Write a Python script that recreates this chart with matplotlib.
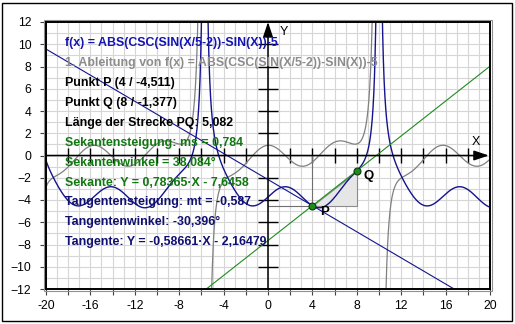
import numpy as np
import matplotlib.pyplot as plt
from matplotlib.patches import Rectangle, Polygon

# chart function: f(x) = ABS(CSC(SIN(X/5-2))-SIN(X))-5
x_lim = (-20, 20)
y_lim = (-12, 12)

p_pt = (4, -4.511)
q_pt = (8, -1.377)
secant = (0.78365, -7.6458)     # slope, intercept
tangent = (-0.58661, -2.16479)  # slope, intercept

x_labels = [-20, -16, -12, -8, -4, 0, 4, 8, 12, 16, 20]
y_labels = [-12, -10, -8, -6, -4, -2, 0, 2, 4, 6, 8, 10, 12]

info_lines = [
    "f(x) = ABS(CSC(SIN(X/5-2))-SIN(X))-5",
    "1. Ableitung von f(x) = ABS(CSC(SIN(X/5-2))-SIN(X))-5",
    "Punkt P (4 / -4,511)",
    "Punkt Q (8 / -1,377)",
    "Länge der Strecke PQ: 5,082",
    "Sekantensteigung: ms = 0,784",
    "Sekantenwinkel = 38,084°",
    "Sekante: Y = 0,78365·X - 7,6458",
    "Tangentensteigung: mt = -0,587",
    "Tangentenwinkel: -30,396°",
    "Tangente: Y = -0,58661·X - 2,16479",
]
info_colors = ["#1414b4", "#8c8c8c", "black", "black", "black",
               "#107810", "#107810", "#107810", "#101070", "#101070", "#101070"]

navy = "#14148c"
green = "#1e8c1e"
gray = "#808080"

plt.rcParams['font.family'] = ['Liberation Sans', 'DejaVu Sans']

fig = plt.figure(figsize=(5.15, 3.24), dpi=100)
ax = fig.add_axes([46 / 515, 1 - 289 / 324, 444 / 515, 267 / 324])
ax.set_xlim(*x_lim)
ax.set_ylim(*y_lim)

# grid every unit
ax.set_xticks(np.arange(-20, 21, 1), minor=True)
ax.set_yticks(np.arange(-12, 13, 1), minor=True)
ax.grid(which='both', color='#d6d6d6', lw=0.8)
ax.set_axisbelow(True)
ax.set_xticks(np.arange(-20, 21, 2))
ax.set_xticklabels([str(v) if v in x_labels else '' for v in range(-20, 21, 2)])
ax.set_yticks(y_labels)
ax.tick_params(which='minor', length=0)
ax.tick_params(which='major', direction='out', length=4.5, width=0.8,
               labelsize=8.8, color='#404040')
ax.tick_params(axis='x', pad=3.5)
ax.tick_params(axis='y', pad=6)
for s in ax.spines.values():
    s.set_linewidth(1.4)
    s.set_color('black')
ax.add_patch(Rectangle((-0.004, -0.006), 1.008, 1.012, transform=ax.transAxes,
                       fill=False, ec='#909090', lw=0.8, clip_on=False))

# coordinate axes with arrows and ticks
ax.annotate('', xy=(19.9, 0), xytext=(-20, 0),
            arrowprops=dict(arrowstyle='-|>,head_length=0.9,head_width=0.3',
                            color='black', lw=1.1, shrinkA=0, shrinkB=0))
ax.annotate('', xy=(0, 12), xytext=(0, -12),
            arrowprops=dict(arrowstyle='-|>,head_length=0.9,head_width=0.3',
                            color='black', lw=1.1, shrinkA=0, shrinkB=0))
xt = [v for v in range(-18, 19, 2) if v != 0]
yt = [v for v in range(-10, 11, 2) if v != 0]
ax.vlines(xt, -0.7, 0.7, color='black', lw=1)
ax.hlines(yt, -0.9, 0.9, color='black', lw=1)
ax.text(18.7, 1.2, 'X', fontsize=9, ha='center', va='center')
ax.text(1.45, 11.1, 'Y', fontsize=9, ha='center', va='center')

# function and derivative
x = np.linspace(x_lim[0], x_lim[1], 16001)
f = np.abs(1 / np.sin(np.sin(x / 5 - 2)) - np.sin(x)) - 5
df = np.gradient(f, x)
f[f > 40] = np.nan
df[np.abs(df) > 40] = np.nan
ax.plot(x, df, color=gray, lw=0.9)
ax.plot(x, f, color=navy, lw=1.0)

# secant and tangent
xl = np.array(x_lim)
ax.plot(xl, secant[0] * xl + secant[1], color=green, lw=0.8)
ax.plot(xl, tangent[0] * xl + tangent[1], color=navy, lw=0.8)

# slope triangle and drop lines
ax.add_patch(Polygon([p_pt, (q_pt[0], p_pt[1]), q_pt], closed=True,
                     fc='#e6e6e6', ec='#8c8c8c', lw=0.8, zorder=1.5))
ax.plot([0, p_pt[0]], [p_pt[1], p_pt[1]], color='#707070', lw=0.8)
ax.plot([p_pt[0], p_pt[0]], [0, p_pt[1]], color='#707070', lw=0.8)

ax.plot(*p_pt, 'o', ms=5, mfc=green, mec='#0a3c0a', mew=0.8, zorder=5)
ax.plot(*q_pt, 'o', ms=5, mfc=green, mec='#0a3c0a', mew=0.8, zorder=5)
ax.text(p_pt[0] + 1.1, p_pt[1] - 0.55, 'P', fontsize=9.5, fontweight='bold',
        ha='center', va='center')
ax.text(q_pt[0] + 1.1, q_pt[1] - 0.5, 'Q', fontsize=9.5, fontweight='bold',
        ha='center', va='center')

# info text
for i, (line, c) in enumerate(zip(info_lines, info_colors)):
    ax.text(-18.3, 10.1 - i * 1.79, line, color=c, fontsize=8.9,
            fontweight='bold', ha='left', va='center', zorder=6)

fig.patches.append(Rectangle((2 / 515, 3 / 324), 510 / 515, 318 / 324,
                             transform=fig.transFigure, fill=False,
                             ec='black', lw=1.0))

plt.savefig('out.png', dpi=100)
